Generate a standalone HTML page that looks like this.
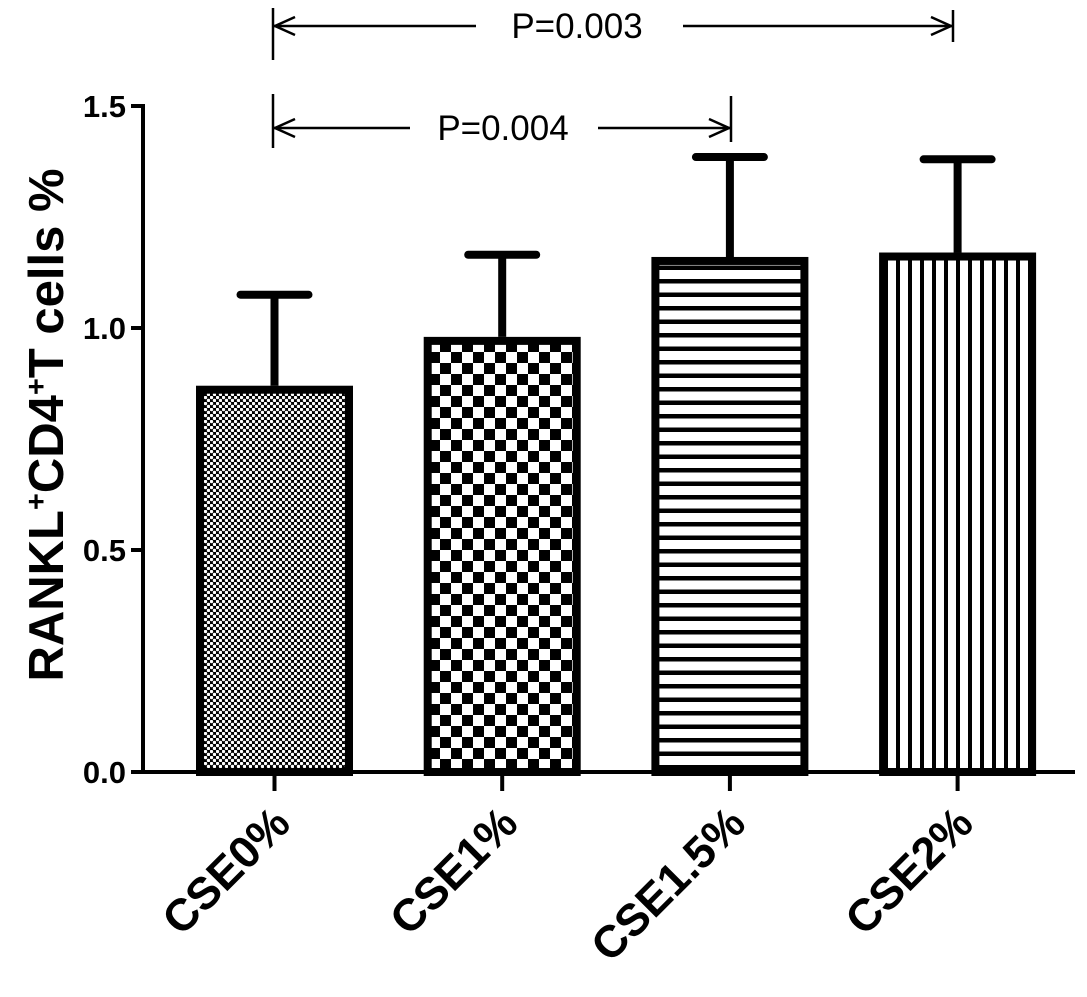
<!DOCTYPE html>
<html><head><meta charset="utf-8"><style>
body{margin:0;background:#fff}
svg text{font-family:"Liberation Sans",Arial,sans-serif;font-weight:bold}
</style></head><body>
<svg id="chart" width="1087" height="992" xmlns="http://www.w3.org/2000/svg">
<defs>
<pattern id="p0" width="6" height="6" patternUnits="userSpaceOnUse"><rect width="6" height="6" fill="#000"/><circle cx="1.5" cy="1.5" r="1.7" fill="#fff"/><circle cx="4.5" cy="4.5" r="1.7" fill="#fff"/></pattern>
<pattern id="p1" width="22" height="22" patternUnits="userSpaceOnUse"><rect width="22" height="22" fill="#000"/><rect width="11" height="11" fill="#fff"/><rect x="11" y="11" width="11" height="11" fill="#fff"/></pattern>
<pattern id="p2" width="13.5" height="13.5" patternUnits="userSpaceOnUse"><rect width="13.5" height="13.5" fill="#000"/><rect y="0" width="13.5" height="9" fill="#fff"/></pattern>
<pattern id="p3" width="12" height="12" patternUnits="userSpaceOnUse"><rect width="12" height="12" fill="#000"/><rect x="0" width="8" height="12" fill="#fff"/></pattern>
</defs>
<g id="plot"></g>
</svg>
<script>
const categories=["CSE0%","CSE1%","CSE1.5%","CSE2%"];
const means=[0.87,0.98,1.16,1.17];
const errTops=[1.075,1.165,1.385,1.38];
const yTicks=[0,0.5,1.0,1.5];
const yTickLabels=["0.0","0.5","1.0","1.5"];
const patterns=["p0","p1","p2","p3"];
const NS="http://www.w3.org/2000/svg";
const g=document.getElementById('plot');
const y=v=>772-v*444;
const x0=196,step=227.7,bw=157;
const x=i=>x0+i*step;
function el(t,a,txt){const e=document.createElementNS(NS,t);for(const k in a)e.setAttribute(k,a[k]);if(txt!==undefined)e.textContent=txt;g.appendChild(e);return e;}
categories.forEach((c,i)=>{
  const cx=x(i)+bw/2;
  const eb=el('line',{x1:cx,x2:cx,y1:y(errTops[i]),y2:y(means[i]),stroke:'#000','stroke-width':8});
  
  
  const cap=el('line',{x1:cx-34,x2:cx+34,y1:y(errTops[i]),y2:y(errTops[i]),stroke:'#000','stroke-width':8,'stroke-linecap':'round'});
  
  
  const r=el('rect',{x:x(i)+4,y:y(means[i])+4,width:bw-8,height:772-y(means[i])-4,fill:'url(#'+patterns[i]+')',stroke:'#000','stroke-width':8});
  
  
  const tk=el('line',{x1:cx,x2:cx,y1:772,y2:791,stroke:'#000','stroke-width':4});
  
  
  const t=el('text',{x:cx+18,y:826,'font-size':45,'text-anchor':'end',transform:`rotate(-45 ${cx+18} 826)`},c);
  
  
});
yTicks.forEach((v,i)=>{
  const tk=el('line',{x1:131,x2:143,y1:y(v),y2:y(v),stroke:'#000','stroke-width':4});
  
  
  const t=el('text',{x:126,y:y(v)+11,'font-size':31,'text-anchor':'end'},yTickLabels[i]);
  
  
});
const ya=el('line',{x1:143,x2:143,y1:104,y2:774,stroke:'#000','stroke-width':4});


const xa=el('line',{x1:141,x2:1075,y1:772,y2:772,stroke:'#000','stroke-width':4});


const yl=el('text',{x:0,y:0,'font-size':49,'text-anchor':'middle',transform:'translate(63 425) rotate(-90)'});


yl.innerHTML='RANKL<tspan dy="-17" font-size="29">+</tspan><tspan dy="17">CD4</tspan><tspan dy="-17" font-size="29">+</tspan><tspan dy="17">T cells %</tspan>';
function bracket(xa,xb,yy,v1,v2,lbl,name,mid,gl,gr){
  const gg=document.createElementNS(NS,'g');g.appendChild(gg);
  
  
  const add=(t,a,txt)=>{const e=document.createElementNS(NS,t);for(const k in a)e.setAttribute(k,a[k]);if(txt)e.textContent=txt;gg.appendChild(e);};
  add('line',{x1:xa,x2:xa,y1:v1[0],y2:v1[1],stroke:'#000','stroke-width':2.5});
  add('line',{x1:xb,x2:xb,y1:v2[0],y2:v2[1],stroke:'#000','stroke-width':2.5});
  add('line',{x1:xa,x2:gl,y1:yy,y2:yy,stroke:'#000','stroke-width':2.5});
  add('line',{x1:gr,x2:xb,y1:yy,y2:yy,stroke:'#000','stroke-width':2.5});
  add('polyline',{points:`${xa+22},${yy-9} ${xa+2},${yy} ${xa+22},${yy+9}`,fill:'none',stroke:'#000','stroke-width':2.5});
  add('polyline',{points:`${xb-22},${yy-9} ${xb-2},${yy} ${xb-22},${yy+9}`,fill:'none',stroke:'#000','stroke-width':2.5});
  const t=document.createElementNS(NS,'text');t.setAttribute('x',mid);t.setAttribute('y',yy+12);t.setAttribute('font-size',35);t.setAttribute('text-anchor','middle');t.style.fontWeight='normal';t.textContent=lbl;gg.appendChild(t);
}
bracket(273,953,26,[8,60],[10,42],'P=0.003','bracket-top',577,476,683);
bracket(273,731,128,[94,148],[96,142],'P=0.004','bracket-bottom',503,410,598);
</script>
</body></html>
